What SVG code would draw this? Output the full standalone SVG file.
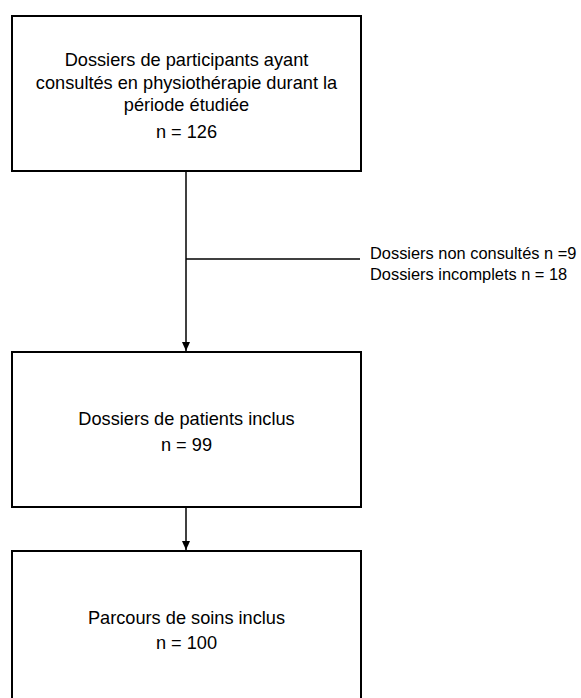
<svg xmlns="http://www.w3.org/2000/svg" width="581" height="698" viewBox="0 0 581 698">
<style>
.box{fill:#fff;stroke:#000;stroke-width:2}
.t{font-family:"Liberation Sans",Arial,sans-serif;font-size:18.2px;fill:#000;text-anchor:middle}
.s{font-family:"Liberation Sans",Arial,sans-serif;font-size:16.4px;fill:#000}
.c{stroke:#000;stroke-width:1.5;fill:none}
</style>
<defs>
<marker id="ah" markerWidth="10" markerHeight="10" refX="9" refY="5" orient="auto" markerUnits="userSpaceOnUse">
<path d="M0,1 L9,5 L0,9 Z" fill="#000"/>
</marker>
</defs>
<rect width="581" height="698" fill="#fff"/>
<g id="connectors">
<line class="c" x1="186" y1="171" x2="186" y2="351" marker-end="url(#ah)"/>
<line class="c" x1="186" y1="259" x2="360" y2="259"/>
<line class="c" x1="186" y1="507" x2="186" y2="550" marker-end="url(#ah)"/>
</g>
<g id="n1">
<rect class="box" x="12" y="16" width="349" height="155"/>
<text class="t" x="186.5" y="66">Dossiers de participants ayant</text>
<text class="t" x="186.5" y="89">consultés en physiothérapie durant la</text>
<text class="t" x="186.5" y="111">période étudiée</text>
<text class="t" x="186.5" y="138">n = 126</text>
</g>
<g id="excl">
<text class="s" x="370" y="259">Dossiers non consultés n =9</text>
<text class="s" x="370" y="280">Dossiers incomplets n = 18</text>
</g>
<g id="n2">
<rect class="box" x="12" y="352" width="349" height="155"/>
<text class="t" x="186.5" y="425">Dossiers de patients inclus</text>
<text class="t" x="186.5" y="451">n = 99</text>
</g>
<g id="n3">
<rect class="box" x="12" y="551" width="349" height="160"/>
<text class="t" x="186.5" y="624">Parcours de soins inclus</text>
<text class="t" x="186.5" y="649">n = 100</text>
</g>
</svg>
